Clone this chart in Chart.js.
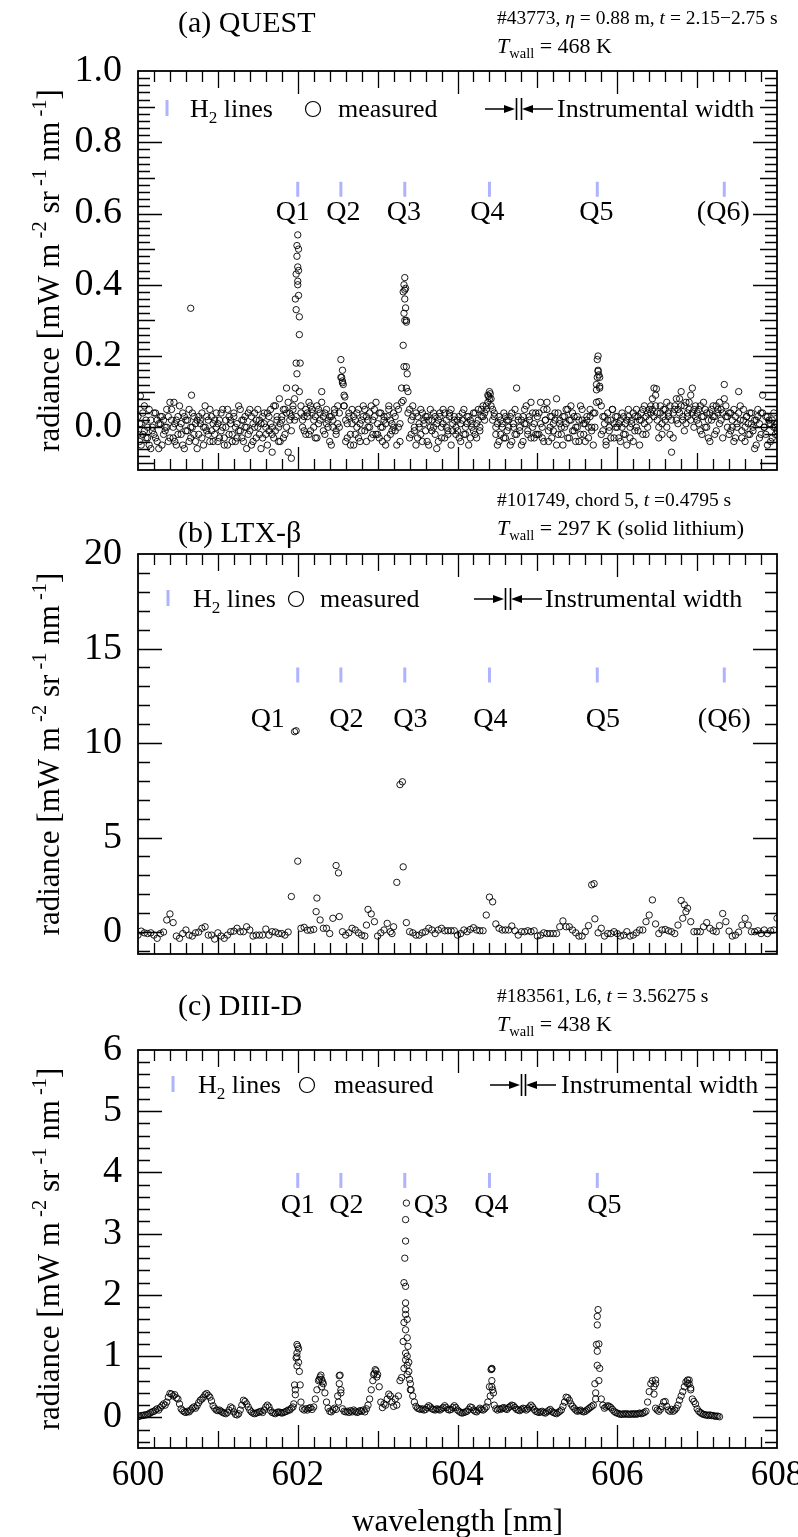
<!DOCTYPE html>
<html><head><meta charset="utf-8">
<script src="https://cdn.jsdelivr.net/npm/chart.js@4.4.1/dist/chart.umd.min.js"></script>
<style>
html,body{margin:0;padding:0;background:#fff;overflow:hidden;}
#wrap{position:relative;width:798px;height:1537px;overflow:hidden;}
canvas{position:absolute;left:0;}
</style></head><body><div id="wrap">
<canvas id="cA" style="top:0px"></canvas>
<canvas id="cB" style="top:490px"></canvas>
<canvas id="cC" style="top:975px"></canvas>
</div>
<script>
// ---------------- DATA ----------------
const WL_MIN = 600, WL_MAX = 608;
const xTickLabels = [600, 602, 604, 606, 608];
const h2LineWl = [602.00, 602.54, 603.34, 604.40, 605.75, 607.34];
const h2LineNames = ['Q1', 'Q2', 'Q3', 'Q4', 'Q5', '(Q6)'];

// (a) QUEST : two overlaid frames sampled every 0.02 nm from 600.00 nm
const questStart = 600.00, questStep = 0.02;
const questFrame1 = [
.03,-.04,.01,-.02,.06,-.03,.0,-.05,.02,-.01,.04,-.03,.02,-.06,.01,.03,-.02,.0,.05,-.04,
.07,.02,-.03,.01,-.05,.03,.0,-.02,.04,-.06,.02,-.01,.05,-.03,.0,.03,-.04,.02,-.02,.01,
.04,-.05,.0,.03,-.02,.05,-.01,-.04,.02,.0,
.01,-.03,.04,.0,-.05,.02,.05,-.02,.01,-.04,.03,.0,-.03,.06,-.01,.02,-.04,.03,.0,-.02,
.05,-.05,.01,.04,-.03,.0,.02,-.06,.03,.01,-.02,.04,-.01,.05,.0,-.03,.06,.02,-.04,.01,
.03,.05,-.02,.04,.07,.02,-.01,.05,.08,.03,
.54,.26,.04,.02,-.01,.05,.03,-.02,.06,.04,.0,.03,-.03,.05,.02,.07,-.01,.04,.01,.02,
-.04,.03,.0,.05,-.02,.01,.04,.19,.13,.09,.02,-.03,.04,-.05,.01,.03,-.02,.0,.05,-.04,
.02,.06,-.01,.03,.0,.04,-.03,.02,.05,-.02,
.01,-.03,.04,.0,.02,-.05,.03,.05,-.02,.01,.04,-.01,.06,.0,-.04,.07,.23,.42,.30,.10,
.05,-.02,.03,.0,.04,-.03,.01,.05,-.04,.02,-.01,.03,-.05,.0,.02,.04,-.02,.01,-.04,.03,
.0,.05,-.03,.02,-.01,.04,-.05,.01,.03,-.02,
.02,-.03,.01,.04,-.02,.0,.03,-.05,.02,.01,-.01,.04,-.03,.02,.0,.05,.03,.04,.06,.07,
.10,.08,.05,.03,-.02,.01,-.04,.02,.0,-.03,.03,-.01,.02,-.05,.04,.0,-.02,.11,.03,-.01,
.02,-.04,.05,.01,-.02,.03,.07,.0,-.03,.04,
.03,-.02,.07,.0,-.04,.02,.05,-.01,.03,-.03,.01,.04,.08,-.02,.02,.0,-.05,.03,.01,.05,
-.03,.02,.04,-.01,.0,.03,-.04,.06,.02,-.02,.01,.03,-.03,.05,.0,-.05,.04,.07,.20,.14,
.06,-.01,.03,-.04,.02,.0,-.03,.05,.01,.03,
.0,-.03,.02,.04,-.02,.01,-.05,.03,.0,.02,-.04,.03,.05,-.01,.02,.04,-.02,.06,.03,.0,
.05,.04,.08,.11,.06,.02,-.03,.04,.01,.05,.02,.07,.03,-.02,-.07,.04,.06,.02,.05,.08,
.10,.03,.06,.01,.04,.07,.02,.11,.05,.03,
.04,.01,.06,-.02,.03,.05,.0,-.03,.04,.02,.06,.03,-.01,.05,.07,.02,.04,.12,.06,.03,
-.02,.04,.0,-.04,.03,.01,.10,.02,-.03,.05,.0,.03,-.02,.04,.01,-.01,-.06,.02,.05,-.03,
.04,.09,.0,-.02,.03,.01,-.04,.02,.0,-.02,.01];
const questFrame2 = [
-.02,.01,-.05,.04,-.01,.02,-.03,.05,-.06,.0,-.02,.04,-.04,.01,.03,-.05,.02,-.01,.0,.03,
-.03,.05,.0,-.04,.02,-.02,.06,.01,-.05,.03,-.01,.02,-.04,.0,.04,-.02,.01,-.06,.03,.02,
-.03,.0,.06,-.01,.02,-.04,.03,.01,-.02,.04,
-.04,.02,-.01,.05,-.03,.0,-.05,.03,.02,-.02,.04,-.04,.01,-.01,.05,-.03,.02,.0,-.06,.04,
-.01,.03,-.04,.0,.02,.05,-.02,.01,-.03,.04,.0,-.05,.03,.01,-.02,.06,-.01,.03,.0,-.04,
.02,-.03,.05,.0,-.07,.04,.03,.06,.02,.18,
.45,.10,.06,.0,.03,-.02,.04,.07,-.01,.05,.02,-.03,.06,.01,.04,.10,.03,-.02,.05,.0,
.03,-.05,.02,.04,-.01,.06,.0,.14,.16,.06,-.04,.01,.03,-.02,.05,-.05,.02,.04,-.03,.01,
-.01,.03,.05,-.04,.02,.0,.06,-.02,.03,.07,
-.02,.04,.0,-.04,.03,.01,-.03,.06,.02,-.01,.0,.03,-.05,.05,.01,.11,.38,.36,.17,.04,
-.03,.02,.06,-.01,-.05,.03,.0,-.02,.04,.01,.03,-.04,.02,.05,-.01,.0,.03,-.06,.02,.04,
-.03,.01,.04,.0,-.02,.03,.05,-.01,.02,.0,
-.01,.03,-.04,.02,.05,-.02,.01,.03,-.03,.0,.04,-.02,.01,.05,-.01,.03,.06,.02,.05,.09,
.08,.06,.02,.04,.0,-.05,.03,-.02,.01,.04,-.03,.02,.0,.03,-.04,.01,.05,-.02,.02,.0,
-.05,.03,.01,.06,-.01,.02,-.03,.04,.01,-.02,
-.02,.04,.01,-.03,.05,.02,.07,-.04,.0,.03,-.01,.02,-.05,.04,.01,-.02,.03,.0,.05,-.03,
.02,.06,-.01,.03,-.04,.0,.02,-.02,.05,.01,-.04,.02,.0,.03,-.01,.04,.0,.12,.16,.11,
-.02,.03,.01,-.05,.04,-.01,.02,.05,-.03,.0,
.03,.01,-.04,.0,.03,-.02,.02,.05,-.03,.01,.04,-.01,.0,.03,-.05,.02,.05,.01,-.02,.04,
.02,.06,.05,.03,.09,.04,.0,.06,-.02,.03,.05,.0,.04,.06,.02,-.03,.05,.08,.01,.04,
.06,.02,-.01,.07,.03,.05,.09,.04,.0,.06,
.02,.05,-.01,.03,.07,.0,.04,.02,-.04,.05,.03,-.02,.06,.04,.01,.05,-.03,.08,.03,.0,
.04,-.01,.02,.05,-.03,.0,.04,.06,-.01,.02,-.04,.03,.01,-.02,.04,.0,.02,-.05,.03,.01,
-.02,.04,.0,.03,-.05,.02,.01,-.03,.04,.0,-.01];
// further frames: points that stand out at the lines and a few outliers
const questExtraWl = [601.97,601.98,601.99,601.99,602.00,602.01,601.98,602.01,602.02,601.99,602.03,601.97,602.01,602.00,
602.55,602.57,602.56,602.59,602.58,
603.33,603.35,603.34,603.35,603.33,603.36,603.34,603.37,603.33,603.32,603.36,
604.41,604.39,
605.75,605.76,605.77,605.75,605.78,605.74,605.77,
600.66,600.03,600.45,600.67,601.68,601.92,601.86,601.77,606.49];
const questExtraRad = [.36,.43,.51,.48,.41,.50,.33,.37,.31,.15,.18,.11,.44,.40,
.14,.12,.125,.085,.06,
.40,.39,.385,.335,.32,.295,.30,.15,.17,.075,.11,
.094,.087,
.19,.157,.147,.14,.115,.105,.072,
.334,.088,.07,.09,-.07,-.087,.11,.08,.108];
const questYTicks = [0, 0.2, 0.4, 0.6, 0.8, 1.0];

// (b) LTX-beta : sampled every 0.04 nm from 600.00 nm
const ltxStart = 600.00, ltxStep = 0.04;
const ltxRad = [
-.16,.05,-.04,-.08,-.04,-.16,-.33,-.08,.0,.64,.96,.5,-.21,-.33,-.08,.11,-.16,-.21,-.04,.0,
.2,.28,-.16,-.16,-.37,-.04,-.21,-.33,-.16,.02,.05,.2,.02,.02,.28,.11,-.21,-.16,-.16,-.16,
.16,-.16,.02,.0,-.08,-.08,-.16,.0,1.88,
10.6,3.75,
.2,.25,.1,.1,.14,1.8,.64,.2,.2,-.08,.73,3.52,.82,.02,-.16,-.04,.2,.11,-.04,-.16,
-.21,1.2,.96,.55,-.21,-.04,.11,.46,.02,.28,
2.63,7.8,3.45,.5,.02,-.04,
-.16,-.16,-.04,.02,.2,.11,-.08,.11,.2,.07,.07,.07,.07,-.16,
-.08,.11,.02,.14,.23,.11,.07,.07,.9,1.85,1.6,.43,.2,.11,.11,.11,.32,.07,-.16,.02,
.02,.07,.02,.07,
-.21,-.16,-.04,-.08,-.08,-.08,-.08,.28,.59,.28,.28,.11,-.04,-.21,-.21,.02,.34,
2.5,.7,
-.04,.2,-.21,-.08,-.08,.02,-.08,-.21,-.16,.02,-.21,-.16,-.04,.11,.11,.55,.9,1.7,.43,-.08,
.11,.14,.07,.02,-.08,.37,1.67,1.44,
1.26,.55,
.02,.02,.02,.28,.5,.2,.07,.02,.34,.98,.55,.05,-.21,-.16,.0,.37,.73,.37,.02,.02,
.07,-.08,.11,-.08,.07,.11,.73];
const ltxExtraWl = [601.98, 602.23, 602.51, 602.86, 603.18, 603.31, 605.71, 606.86, 606.82];
const ltxExtraRad = [10.65, 1.08, 3.13, .37, -.08, 7.95, 2.56, 1.08, .73];
const ltxYTicks = [0, 5, 10, 15, 20];

// (c) DIII-D : sampled every 0.02 nm from 600.00 nm to 607.28 nm
const d3dStart = 600.00, d3dStep = 0.02;
const d3dRad = [
.01,.02,.03,.03,.04, .04,.05,.06,.08,.09, .10,.12,.14,.12,.16, .19,.22,.20,.25,.33,
.39,.38,.35,.37,.32, .30,.22,.14,.11,.09, .08,.10,.09,.12,.15, .17,.15,.19,.24,.28,
.30,.33,.37,.39,.36, .33,.27,.19,.15,.12,
.11,.12,.10,.08,.07, .06,.08,.12,.17,.15, .09,.05,.04,.06,.12, .20,.28,.26,.22,.17,
.12,.09,.07,.06,.07, .08,.09,.10,.08,.12, .17,.20,.17,.11,.08, .07,.06,.08,.09,.08,
.07,.08,.09,.10,.12, .12,.15,.17,.53,.97,
1.16,.75,.25,.14,.12, .14,.12,.15,.16,.13, .17,.30,.45,.60,.66, .62,.55,.40,.25,.15,
.10,.09,.12,.15,.13, .35,.68,.40,.14,.10, .09,.10,.08,.11,.09, .12,.10,.08,.09,.11,
.10,.12,.09,.14,.20, .30,.45,.60,.72,.76,
.70,.50,.25,.16,.22, .20,.30,.38,.35,.25, .18,.30,.20,.35,.60, .65,1.24,2.60,3.50,1.16,
.62,.45,.35,.25,.18, .15,.14,.13,.14,.12, .13,.16,.19,.17,.14, .13,.12,.14,.13,.12,
.14,.16,.19,.16,.13, .12,.13,.16,.19,.16,
.12,.10,.08,.07,.08, .09,.10,.13,.17,.16, .12,.10,.09,.12,.15, .13,.12,.14,.17,.25,
.50,.78,.45,.20,.14, .12,.14,.13,.15,.16, .14,.13,.16,.18,.20, .19,.16,.13,.12,.11,
.13,.15,.14,.12,.14, .17,.20,.17,.13,.10,
.09,.08,.09,.10,.08, .07,.09,.11,.13,.10, .08,.07,.06,.08,.10, .12,.18,.25,.33,.32,
.28,.22,.18,.15,.12, .10,.11,.12,.10,.09, .10,.12,.14,.16,.18, .20,.55,1.19,1.76,.80,
.30,.20,.15,.17,.19, .18,.16,.13,.10,.08,
.07,.06,.05,.05,.06, .05,.06,.05,.05,.06, .05,.06,.05,.06,.07, .06,.07,.08,.10,.25,
.42,.55,.60,.38,.15, .12,.10,.13,.18,.25, .26,.18,.12,.10,.13, .10,.12,.15,.20,.28,
.35,.42,.50,.58,.61, .55,.45,.30,.26,.22,
.14,.10,.08,.06,.05, .04,.04,.03,.04,.03, .03,.02,.02,.02,.01];
const d3dExtraWl = [601.99,601.99,601.99,601.99,601.97,601.97,602.01,602.01,602.03,601.95,
602.27,602.29,602.31,602.30, 602.53,602.52,602.54,602.51, 602.97,602.95,602.99,
603.35,603.35,603.35,603.35,603.35,603.35,603.35,603.35,603.35,
603.37,603.37,603.37,603.37,603.37, 603.33,603.33,603.33, 603.39,603.39,603.41,603.41,
604.43,604.43,604.43,604.43,604.41,604.45,
605.75,605.75,605.75,605.75,605.77,605.77,605.73,605.73,
606.48,606.48,606.46, 606.90,606.88,606.92];
const d3dExtraRad = [1.19,1.05,.99,.84,.37,.45,1.12,.90,.53,.22,
.62,.69,.58,.50, .69,.55,.45,.25, .78,.70,.66,
3.23,2.88,2.14,1.87,1.76,1.68,1.43,1.05,.94,
1.6,1.3,1.0,.85,.7, 2.2,1.55,.8, .9,.75,.55,.45,
.80,.79,.6,.5,.35,.4,
1.65,1.51,1.08,.85,1.2,.6,.4,.3,
.61,.55,.5, .61,.55,.48];
const d3dYTicks = [0, 1, 2, 3, 4, 5, 6];

// ---------------- RENDERING ----------------
const FONT = "'Liberation Serif','Times New Roman',Times,serif";
Chart.defaults.font.family = FONT;
Chart.defaults.color = '#000';
const H2_COLOR = '#aeb2ff';
const CANVAS_W = 830;

function gridPoints(start, step, vals) { return vals.map((v, i) => ({x: start + i * step, y: v})); }
function pairPoints(xs, ys) { return xs.map((x, i) => ({x: x, y: ys[i]})); }

function runFont(r, size) { const s = (r.sub || r.sup) ? size * 0.66 : size; return (r.it ? 'italic ' : '') + s.toFixed(1) + 'px ' + FONT; }
function runsWidth(ctx, runs, size) { let w = 0; for (const r of runs) { ctx.font = runFont(r, size); w += ctx.measureText(r.t).width; } return w; }
function drawRuns(ctx, runs, x, y, size, align) {
  const w = runsWidth(ctx, runs, size);
  let cx = align === 'center' ? x - w / 2 : align === 'right' ? x - w : x;
  ctx.textAlign = 'left'; ctx.textBaseline = 'alphabetic';
  for (const r of runs) {
    ctx.font = runFont(r, size);
    const dy = r.sub ? size * 0.24 : r.sup ? -size * 0.42 : 0;
    ctx.fillText(r.t, cx, y + dy);
    cx += ctx.measureText(r.t).width;
  }
}
function arrowHead(ctx, tipX, y, dir) {
  ctx.beginPath(); ctx.moveTo(tipX, y); ctx.lineTo(tipX - dir * 11, y - 4); ctx.lineTo(tipX - dir * 11, y + 4); ctx.closePath(); ctx.fill();
}

const yTitleRuns = [{t: 'radiance [mW m'}, {t: ' -2', sup: 1}, {t: ' sr'}, {t: ' -1', sup: 1}, {t: ' nm'}, {t: ' -1', sup: 1}, {t: ']'}];

const decor = {
  id: 'decor',
  afterDraw(chart, args, p) {
    const {ctx, chartArea: a, scales: {x, y}} = chart;
    const T = p.top;
    ctx.save();
    ctx.fillStyle = '#000'; ctx.strokeStyle = '#000';
    // inward ticks
    ctx.lineWidth = 1.3; ctx.beginPath();
    const nx = Math.round((WL_MAX - WL_MIN) / 0.2);
    for (let k = 1; k < nx; k++) {
      const px = Math.round(x.getPixelForValue(WL_MIN + k * 0.2)) + 0.5;
      const len = (k % 10 === 0) ? 23 : (k % 5 === 0) ? 17 : 11;
      ctx.moveTo(px, a.bottom); ctx.lineTo(px, a.bottom - len);
      ctx.moveTo(px, a.top); ctx.lineTo(px, a.top + len);
    }
    const k0 = Math.ceil(p.yMin / p.yMinor - 1e-6), k1 = Math.floor(p.yMax / p.yMinor + 1e-6);
    const rMaj = Math.round(p.yMajor / p.yMinor), rMed = p.yMedium ? Math.round(p.yMedium / p.yMinor) : 0;
    for (let k = k0; k <= k1; k++) {
      const py = Math.round(y.getPixelForValue(k * p.yMinor)) + 0.5;
      if (py <= a.top + 1 || py >= a.bottom - 1) continue;
      const len = (k % rMaj === 0) ? 24 : (rMed && k % rMed === 0) ? 17 : 12;
      ctx.moveTo(a.left, py); ctx.lineTo(a.left + len, py);
      ctx.moveTo(a.right, py); ctx.lineTo(a.right - len, py);
    }
    ctx.stroke();
    ctx.lineWidth = 1.8;
    ctx.strokeRect(a.left, a.top, a.right - a.left, a.bottom - a.top);

    // line labels
    ctx.font = p.qSize + 'px ' + FONT; ctx.textAlign = 'center'; ctx.textBaseline = 'alphabetic';
    const yBar = y.getPixelForValue(p.h2Y);
    for (let i = 0; i < p.nLines; i++) {
      ctx.fillText(h2LineNames[i], x.getPixelForValue(h2LineWl[i]) + p.qDx[i], yBar + p.qDy);
    }

    // legend
    const L = p.legend, ly = L.y - T, fs = 26;
    ctx.strokeStyle = H2_COLOR; ctx.lineWidth = 3;
    ctx.beginPath(); ctx.moveTo(L.bar, ly - 8); ctx.lineTo(L.bar, ly + 8); ctx.stroke();
    drawRuns(ctx, [{t: 'H'}, {t: '2', sub: 1}, {t: ' lines'}], L.h2, ly + 9, fs, 'left');
    ctx.strokeStyle = '#000'; ctx.lineWidth = 1.2;
    ctx.beginPath(); ctx.arc(L.circ, ly + 1, 7.5, 0, Math.PI * 2); ctx.stroke();
    drawRuns(ctx, [{t: 'measured'}], L.meas, ly + 9, fs, 'left');
    ctx.lineWidth = 1.6;
    ctx.beginPath();
    ctx.moveTo(L.arrL, ly + 1); ctx.lineTo(L.tipR - 4, ly + 1);
    ctx.moveTo(L.tipL + 4, ly + 1); ctx.lineTo(L.arrR, ly + 1);
    ctx.moveTo(L.bars[0] + 0.5, ly - 10); ctx.lineTo(L.bars[0] + 0.5, ly + 12);
    ctx.moveTo(L.bars[1] + 0.5, ly - 10); ctx.lineTo(L.bars[1] + 0.5, ly + 12);
    ctx.stroke();
    arrowHead(ctx, L.tipR, ly + 1, 1); arrowHead(ctx, L.tipL, ly + 1, -1);
    drawRuns(ctx, [{t: 'Instrumental width'}], L.inst, ly + 9, fs, 'left');

    // headers
    drawRuns(ctx, [{t: p.title}], 178, p.titleY - T, 30, 'left');
    drawRuns(ctx, p.info1, 497, p.info1Y - T, 19.5, 'left');
    drawRuns(ctx, p.info2, 497, p.info2Y - T, 22, 'left');

    // y-axis title
    ctx.save();
    ctx.translate(59, (a.top + a.bottom) / 2);
    ctx.rotate(-Math.PI / 2);
    drawRuns(ctx, yTitleRuns, 0, 0, 31, 'center');
    ctx.restore();
    ctx.restore();
  }
};

function circles(points) {
  return {data: points, showLine: false, pointStyle: 'circle', pointRadius: 3.2, borderWidth: 0.9,
          borderColor: '#000', backgroundColor: 'rgba(0,0,0,0)', pointHoverRadius: 3.2};
}
function h2Markers(n, yLevel) {
  return {data: h2LineWl.slice(0, n).map(w => ({x: w, y: yLevel})), showLine: false, pointStyle: 'line',
          rotation: 90, pointRadius: 7.5, borderWidth: 3, borderColor: H2_COLOR, backgroundColor: H2_COLOR};
}

const panels = [
  {id: 'cA', top: 0, height: 495, area: {top: 71, bottom: 470}, showX: false,
   yMin: -0.12, yMax: 1.0, yTicks: questYTicks, yFmt: v => v.toFixed(1), yMinor: 0.02, yMedium: 0.1, yMajor: 0.2,
   h2Y: 0.668, nLines: 6, qSize: 28, qDx: [-5, 2.5, -1, -2, -1, -1], qDy: 31,
   legend: {y: 108, bar: 167, h2: 190, circ: 313, meas: 338, arrL: 485, tipR: 515, bars: [516, 521], tipL: 522, arrR: 553, inst: 557},
   title: '(a) QUEST', titleY: 32,
   info1: [{t: '#43773, '}, {t: 'η', it: 1}, {t: ' = 0.88 m, '}, {t: 't', it: 1}, {t: ' = 2.15−2.75 s'}], info1Y: 24,
   info2: [{t: 'T', it: 1}, {t: 'wall', sub: 1}, {t: ' = 468 K'}], info2Y: 53,
   datasets: [h2Markers(6, 0.668),
              circles(gridPoints(questStart, questStep, questFrame1)),
              circles(gridPoints(questStart, questStep, questFrame2)),
              circles(pairPoints(questExtraWl, questExtraRad))]},
  {id: 'cB', top: 490, height: 490, area: {top: 64, bottom: 464}, showX: false,
   yMin: -1.16, yMax: 20, yTicks: ltxYTicks, yFmt: v => String(v), yMinor: 1, yMedium: 0, yMajor: 5,
   h2Y: 13.6, nLines: 6, qSize: 28, qDx: [-30, 5.5, 5.5, 1, 5.5, 0], qDy: 52,
   legend: {y: 598, bar: 168, h2: 193, circ: 296, meas: 320, arrL: 474, tipR: 504, bars: [505, 510], tipL: 511, arrR: 542, inst: 545},
   title: '(b) LTX-β', titleY: 542,
   info1: [{t: '#101749, chord 5, '}, {t: 't', it: 1}, {t: ' =0.4795 s'}], info1Y: 506,
   info2: [{t: 'T', it: 1}, {t: 'wall', sub: 1}, {t: ' = 297 K (solid lithium)'}], info2Y: 535,
   datasets: [h2Markers(6, 13.6),
              circles(gridPoints(ltxStart, ltxStep, ltxRad)),
              circles(pairPoints(ltxExtraWl, ltxExtraRad))]},
  {id: 'cC', top: 975, height: 580, area: {top: 75, bottom: 473}, showX: true,
   yMin: -0.5, yMax: 6, yTicks: d3dYTicks, yFmt: v => String(v), yMinor: 0.2, yMedium: 0, yMajor: 1,
   h2Y: 3.87, nLines: 5, qSize: 28, qDx: [0, 5.5, 26, 2, 7], qDy: 33,
   legend: {y: 1084, bar: 173, h2: 198, circ: 307, meas: 334, arrL: 490, tipR: 520, bars: [521, 525], tipL: 526, arrR: 556, inst: 561},
   title: '(c) DIII-D', titleY: 1015,
   info1: [{t: '#183561, L6, '}, {t: 't', it: 1}, {t: ' = 3.56275 s'}], info1Y: 1002,
   info2: [{t: 'T', it: 1}, {t: 'wall', sub: 1}, {t: ' = 438 K'}], info2Y: 1031,
   datasets: [h2Markers(5, 3.87),
              circles(gridPoints(d3dStart, d3dStep, d3dRad)),
              circles(pairPoints(d3dExtraWl, d3dExtraRad))]}
];

function makeChart(p) {
  const cv = document.getElementById(p.id);
  cv.width = CANVAS_W; cv.height = p.height;
  cv.style.width = CANVAS_W + 'px'; cv.style.height = p.height + 'px';
  const xScale = {type: 'linear', min: WL_MIN, max: WL_MAX, display: p.showX,
    afterBuildTicks: ax => { ax.ticks = xTickLabels.map(v => ({value: v})); },
    afterFit: ax => { if (p.showX) ax.height = p.height - p.area.bottom; ax.paddingLeft = 0; ax.paddingRight = 0; },
    ticks: {font: {size: 35}, color: '#000', padding: 7, maxRotation: 0, autoSkip: false, callback: v => String(v)},
    grid: {display: false, drawTicks: false}, border: {display: false},
    title: {display: true, text: 'wavelength [nm]', font: {size: 31}, color: '#000', padding: {top: 0, bottom: 14}}};
  new Chart(cv, {
    type: 'scatter',
    data: {datasets: p.datasets},
    options: {
      responsive: false, animation: false, events: [], devicePixelRatio: 1,
      layout: {padding: {left: 0, right: CANVAS_W - 777, top: p.area.top, bottom: p.showX ? 0 : p.height - p.area.bottom}},
      plugins: {legend: {display: false}, tooltip: {enabled: false}, decor: p},
      scales: {
        x: xScale,
        y: {type: 'linear', min: p.yMin, max: p.yMax,
            afterBuildTicks: ax => { ax.ticks = p.yTicks.map(v => ({value: v})); },
            afterFit: ax => { ax.width = 138; ax.paddingTop = 0; ax.paddingBottom = 0; },
            ticks: {font: {size: 38}, color: '#000', padding: 16, callback: p.yFmt},
            grid: {display: false, drawTicks: false}, border: {display: false}}
      }
    },
    plugins: [decor]
  });
}
panels.forEach(makeChart);
</script>
</body></html>
